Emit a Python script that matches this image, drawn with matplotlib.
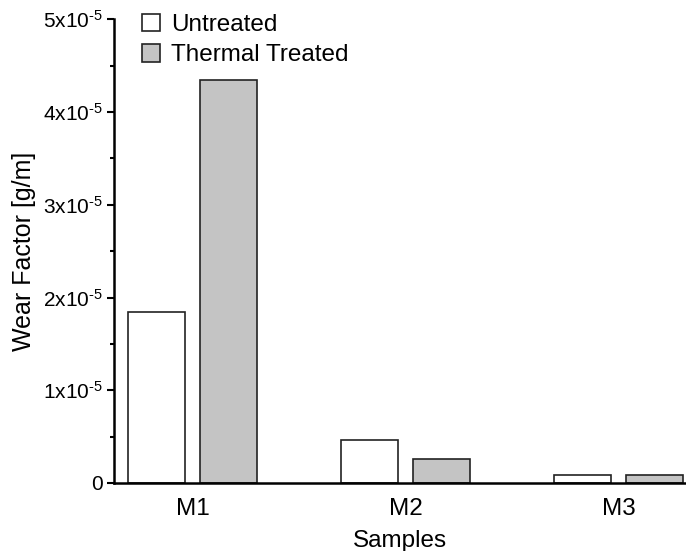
import numpy as np
import matplotlib
matplotlib.use('Agg')
import matplotlib.pyplot as plt
from matplotlib.ticker import MultipleLocator

plt.rcParams['font.family'] = ['Liberation Sans', 'DejaVu Sans']
plt.rcParams['mathtext.fontset'] = 'custom'
plt.rcParams['mathtext.rm'] = 'Liberation Sans'

# data
samples = ['M1', 'M2', 'M3']
untreated = [1.84e-5, 0.46e-5, 0.086e-5]
thermal = [4.345e-5, 0.256e-5, 0.083e-5]
ytick_vals = [0, 1e-5, 2e-5, 3e-5, 4e-5, 5e-5]
ytick_labels = ['0'] + [r'$\mathregular{%dx10^{\text{-}5}}$' % i for i in range(1, 6)]

fig = plt.figure(figsize=(6.86, 5.51), dpi=100)
ax = fig.add_axes([114 / 686, 68 / 551, 572 / 686, 463.75 / 551])

x = np.arange(len(samples))
w = 0.272
off = 0.169
ax.bar(x - off, untreated, w, color='white', edgecolor='#222222', linewidth=1.2,
       label='Untreated')
ax.bar(x + off, thermal, w, color='#c4c4c4', edgecolor='#222222', linewidth=1.2,
       label='Thermal Treated')

ax.set_xlim(-0.3685, 2.317)
ax.set_ylim(0, 5e-5)

ax.spines['top'].set_visible(False)
ax.spines['right'].set_visible(False)
ax.spines['left'].set_linewidth(1.8)
ax.spines['bottom'].set_linewidth(1.8)

ax.set_xticks(x)
ax.set_xticklabels(samples, fontsize=17.5)
ax.tick_params(axis='x', length=0, pad=11)

ax.set_yticks(ytick_vals)
ax.set_yticklabels(ytick_labels, fontsize=15)
ax.yaxis.set_minor_locator(MultipleLocator(0.5e-5))
ax.tick_params(axis='y', which='major', length=5, width=1.5, pad=3)
ax.tick_params(axis='y', which='minor', length=3, width=1.5)

ax.set_xlabel('Samples', fontsize=17.5, labelpad=7)
ax.set_ylabel('Wear Factor [g/m]', fontsize=18, va='center')
ax.yaxis.set_label_coords(-0.157, 0.5)

ax.legend(loc='upper left', bbox_to_anchor=(142 / 686, 1 - 14 / 551),
          bbox_transform=fig.transFigure, frameon=False, fontsize=17.5,
          handlelength=0.76, handleheight=0.72, handletextpad=0.45,
          labelspacing=0.33, borderaxespad=0, borderpad=0)

fig.savefig('out.png', dpi=100)
